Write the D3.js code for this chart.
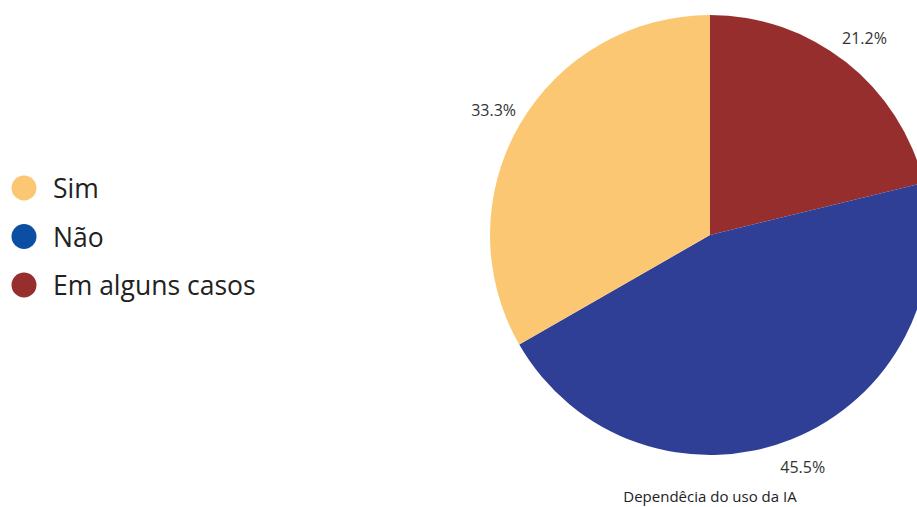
<!DOCTYPE html>
<html>
<head>
<meta charset="utf-8">
<script src="https://cdn.jsdelivr.net/npm/d3@7"></script>
<style>
  body { margin: 0; background: #fff; }
  svg { display: block; font-family: "Open Sans", sans-serif; }
</style>
</head>
<body>
<div id="chart"></div>
<script>
var categories = ["Em alguns casos", "Não", "Sim"];
var values = [21.2, 45.5, 33.3];
var sliceColors = ["#962e2e", "#303f96", "#fbc772"];
var legendOrder = ["Sim", "Não", "Em alguns casos"];
var legendColors = ["#fbc772", "#0b4ea2", "#962e2e"];
var title = "Dependêcia do uso da IA";

var width = 917, height = 507;
var cx = 710, cy = 235, radius = 220, labelRadius = 250;

var svg = d3.select("#chart").append("svg")
  .attr("width", width)
  .attr("height", height);

var data = categories.map(function(c, i) { return {name: c, value: values[i], color: sliceColors[i]}; });

var pie = d3.pie().sort(null).value(function(d) { return d.value; });
var arc = d3.arc().innerRadius(0).outerRadius(radius);
var labelArc = d3.arc().innerRadius(labelRadius).outerRadius(labelRadius);

var g = svg.append("g").attr("transform", "translate(" + cx + "," + cy + ")");

var arcs = pie(data);

g.selectAll("path")
  .data(arcs)
  .join("path")
  .attr("d", arc)
  .attr("fill", function(d) { return d.data.color; });

g.selectAll("text")
  .data(arcs)
  .join("text")
  .attr("transform", function(d) { return "translate(" + labelArc.centroid(d) + ")"; })
  .attr("text-anchor", "middle")
  .attr("dominant-baseline", "central")
  .style("font-size", "16px")
  .style("fill", "#333")
  .text(function(d) { return d.data.value.toFixed(1) + "%"; });

// legend
var legend = svg.append("g").attr("transform", "translate(24,188)");
var item = legend.selectAll("g")
  .data(legendOrder)
  .join("g")
  .attr("transform", function(d, i) { return "translate(0," + (i * 48.5) + ")"; });

item.append("circle")
  .attr("r", 12.5)
  .attr("fill", function(d, i) { return legendColors[i]; });

item.append("text")
  .attr("x", 29)
  .attr("dominant-baseline", "central")
  .style("font-size", "26.5px")
  .style("fill", "#222")
  .text(function(d) { return d; });

svg.append("text")
  .attr("x", cx)
  .attr("y", 502)
  .attr("text-anchor", "middle")
  .style("font-size", "15px")
  .style("fill", "#222")
  .text(title);
</script>
</body>
</html>
